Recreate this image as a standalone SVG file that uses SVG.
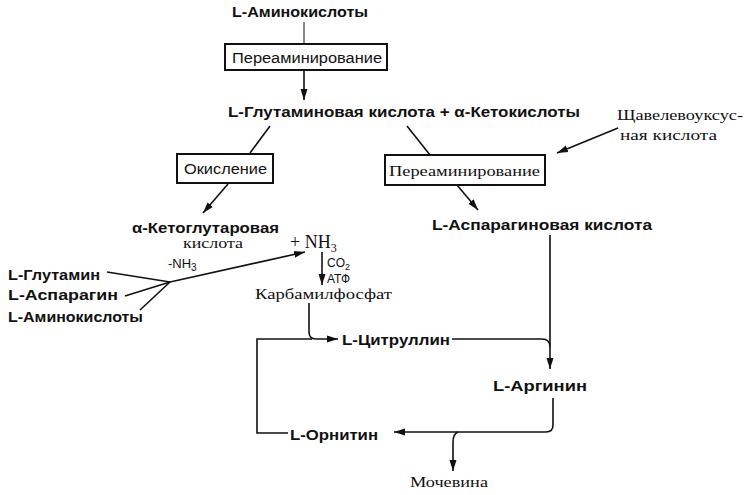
<svg xmlns="http://www.w3.org/2000/svg" width="746" height="495" viewBox="0 0 746 495">
<defs>
<style>
.s{font-family:"Liberation Sans",Arial,sans-serif;font-size:14px;font-weight:bold;fill:#111}
.n{font-family:"Liberation Sans",Arial,sans-serif;font-size:14px;fill:#111}
.r{font-family:"Liberation Serif","Times New Roman",serif;font-size:15px;fill:#111}
.big{font-family:"Liberation Serif","Times New Roman",serif;font-size:18px;fill:#111}
.sm{font-family:"Liberation Sans",Arial,sans-serif;font-size:12px;fill:#111}
.box{fill:#fff;stroke:#111;stroke-width:2}
.c{fill:none;stroke:#111;stroke-width:1.6}
.a{marker-end:url(#ah)}
</style>
<marker id="ah" markerUnits="userSpaceOnUse" markerWidth="12" markerHeight="8" refX="11" refY="4" orient="auto">
<path d="M0,0.5 L11,4 L0,7.5 Z" fill="#111"/>
</marker>
</defs>
<rect width="746" height="495" fill="#fff"/>
<g id="connectors">
<line class="c" x1="304" y1="22" x2="304" y2="43" style="stroke-width:1"/>
<line class="c a" x1="304" y1="70" x2="304" y2="100"/>
<line class="c" x1="270" y1="126" x2="250" y2="153"/>
<line class="c" x1="407" y1="126" x2="430" y2="155"/>
<line class="c a" x1="618" y1="128" x2="557" y2="153"/>
<line class="c a" x1="228" y1="184" x2="203" y2="213"/>
<line class="c a" x1="457" y1="185" x2="478" y2="210"/>
<line class="c a" x1="170" y1="282" x2="305" y2="252"/>
<line class="c" x1="107" y1="272" x2="170" y2="282"/>
<line class="c" x1="125" y1="296" x2="170" y2="282"/>
<line class="c" x1="140" y1="310" x2="170" y2="282"/>
<line class="c a" x1="322" y1="252" x2="322" y2="285"/>
<path class="c a" d="M309,303 V332 Q309,339 316,339 H338"/>
<path class="c" d="M288,433 H257 V339 H312"/>
<path class="c" d="M452,339 H542 Q550,339 550,347"/>
<line class="c a" x1="550" y1="235" x2="550" y2="369"/>
<path class="c a" d="M553,398 V425 Q553,432 546,432 H394"/>
<path class="c a" d="M458,432 Q453,434 453,442 V471"/>
</g>
<g id="n-aminoacids-top"><text class="s" x="232" y="17" textLength="136" lengthAdjust="spacingAndGlyphs">L-Аминокислоты</text></g>
<g id="n-transamination1">
<rect class="box" x="225" y="44" width="162" height="26"/>
<text class="n" x="232" y="63" textLength="150" lengthAdjust="spacingAndGlyphs">Переаминирование</text>
</g>
<g id="n-glutamate"><text class="s" x="228" y="117" textLength="352" lengthAdjust="spacingAndGlyphs">L-Глутаминовая  кислота + α-Кетокислоты</text></g>
<g id="n-oxaloacetate">
<text class="r" x="617" y="120" textLength="126" lengthAdjust="spacingAndGlyphs">Щавелевоуксус-</text>
<text class="r" x="620" y="140" textLength="97" lengthAdjust="spacingAndGlyphs">ная кислота</text>
</g>
<g id="n-oxidation">
<rect class="box" x="177" y="154" width="96" height="29"/>
<text class="n" x="184" y="174" textLength="83" lengthAdjust="spacingAndGlyphs">Окисление</text>
</g>
<g id="n-transamination2">
<rect class="box" x="385" y="155" width="160" height="30"/>
<text class="r" x="389" y="176" textLength="151" lengthAdjust="spacingAndGlyphs">Переаминирование</text>
</g>
<g id="n-aspartate"><text class="s" x="432" y="230" textLength="220" lengthAdjust="spacingAndGlyphs">L-Аспарагиновая  кислота</text></g>
<g id="n-ketoglutarate">
<text class="s" x="132" y="233" textLength="147" lengthAdjust="spacingAndGlyphs">α-Кетоглутаровая</text>
<text class="r" x="183" y="248" textLength="60" lengthAdjust="spacingAndGlyphs">кислота</text>
<text class="sm" x="168" y="268" style="font-size:13px">-NH<tspan style="font-size:10px" dy="3">3</tspan></text>
</g>
<g id="n-nh3"><text class="big" x="290" y="248">+ NH<tspan style="font-size:12px" dy="4">3</tspan></text></g>
<g id="n-co2atp">
<text class="sm" x="327" y="267">CO<tspan style="font-size:9px" dy="3">2</tspan></text>
<text class="sm" x="327" y="283">АТФ</text>
</g>
<g id="n-glutamine"><text class="s" x="8" y="280" textLength="92" lengthAdjust="spacingAndGlyphs">L-Глутамин</text></g>
<g id="n-asparagine"><text class="s" x="8" y="300" textLength="110" lengthAdjust="spacingAndGlyphs">L-Аспарагин</text></g>
<g id="n-aminoacids-left"><text class="s" x="8" y="322" textLength="135" lengthAdjust="spacingAndGlyphs">L-Аминокислоты</text></g>
<g id="n-carbamoylphosphate"><text class="r" x="255" y="299" textLength="137" lengthAdjust="spacingAndGlyphs">Карбамилфосфат</text></g>
<g id="n-citrulline"><text class="s" x="342" y="345" textLength="108" lengthAdjust="spacingAndGlyphs">L-Цитруллин</text></g>
<g id="n-arginine"><text class="s" x="493" y="391" textLength="94" lengthAdjust="spacingAndGlyphs">L-Аргинин</text></g>
<g id="n-ornithine"><text class="s" x="290" y="440" textLength="88" lengthAdjust="spacingAndGlyphs">L-Орнитин</text></g>
<g id="n-urea"><text class="r" x="410" y="487" textLength="78" lengthAdjust="spacingAndGlyphs">Мочевина</text></g>
</svg>
